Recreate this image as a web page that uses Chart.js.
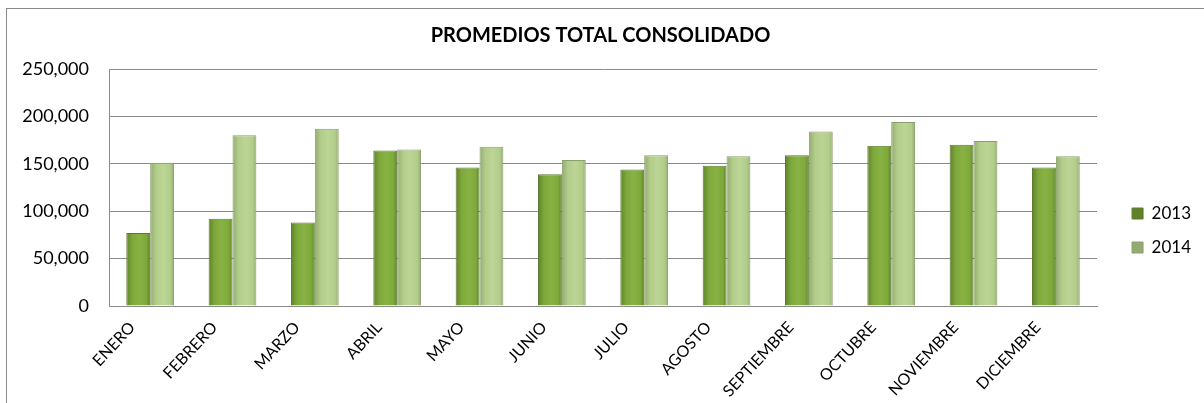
<!DOCTYPE html>
<html>
<head>
<meta charset="utf-8">
<script src="https://cdn.jsdelivr.net/npm/chart.js@4"></script>
<style>
  body { margin: 0; background: #fff; }
  #wrap { position: relative; width: 1204px; height: 403px; overflow: hidden; }
  #frame { position: absolute; left: 6px; top: 8px; width: 1300px; height: 500px; border: 1px solid #8a8a8a; }
  canvas { position: absolute; left: 0; top: 0; }
</style>
</head>
<body>
<div id="wrap">
  <div id="frame"></div>
  <canvas id="promChart" width="1204" height="403"></canvas>
</div>
<script>
const months = ["ENERO", "FEBRERO", "MARZO", "ABRIL", "MAYO", "JUNIO", "JULIO",
  "AGOSTO", "SEPTIEMBRE", "OCTUBRE", "NOVIEMBRE", "DICIEMBRE"];
const values2013 = [77000, 92000, 88000, 164000, 146000, 139000, 144000, 148000, 159000, 169000, 170000, 146000];
const values2014 = [151000, 180000, 187000, 165000, 168000, 154000, 159000, 158000, 184000, 194000, 174000, 158000];
const yMax = 250000;
const yStep = 50000;

const FONT = "Lato, 'Liberation Sans', sans-serif";

// horizontal gradient per bar so it looks like the rounded Excel bars
const barFill = (edge, mid, light) => (ctx) => {
  const el = ctx.element;
  if (!el || !el.width || isNaN(el.x)) return mid;
  const c = ctx.chart.ctx;
  const g = c.createLinearGradient(el.x - el.width / 2, 0, el.x + el.width / 2, 0);
  g.addColorStop(0, edge);
  g.addColorStop(0.25, mid);
  g.addColorStop(0.55, light);
  g.addColorStop(0.85, mid);
  g.addColorStop(1, edge);
  return g;
};

const ctx = document.getElementById("promChart").getContext("2d");
const chart = new Chart(ctx, {
  type: "bar",
  data: {
    labels: months,
    datasets: [
      {
        label: "2013",
        data: values2013,
        backgroundColor: barFill("#5f8229", "#7da83a", "#88b244"),
        borderColor: "#5e7a30",
        borderWidth: 1,
      },
      {
        label: "2014",
        data: values2014,
        backgroundColor: barFill("#93ab72", "#b2cc8a", "#bcd596"),
        borderColor: "#8aa06c",
        borderWidth: 1,
      },
    ],
  },
  options: {
    responsive: false,
    animation: false,
    layout: { padding: { left: 0, right: 3, top: 0, bottom: 0 } },
    datasets: {
      bar: { categoryPercentage: 0.58, barPercentage: 1 },
    },
    plugins: {
      title: {
        display: true,
        text: "PROMEDIOS TOTAL CONSOLIDADO",
        color: "#000",
        font: { family: FONT, size: 20, weight: "bold" },
        padding: { top: 24, bottom: 21 },
      },
      legend: {
        position: "right",
        // empty title only pushes the items down a bit
        title: { display: true, text: " ", font: { size: 10 }, padding: { top: 23, bottom: 23 } },
        labels: {
          color: "#000",
          font: { family: FONT, size: 17 },
          boxWidth: 11,
          boxHeight: 11,
          padding: 17,
        },
      },
      tooltip: { enabled: false },
    },
    scales: {
      x: {
        grid: { display: false },
        border: { color: "#8a8a8a" },
        ticks: {
          color: "#000",
          font: { family: FONT, size: 16 },
          minRotation: 47,
          maxRotation: 47,
          padding: 4,
          labelOffset: -18,
        },
        afterFit: (scale) => { scale.height = 97; },
      },
      y: {
        min: 0,
        max: yMax,
        ticks: {
          stepSize: yStep,
          color: "#000",
          font: { family: FONT, size: 18 },
          padding: 20,
          callback: (v) => v.toLocaleString("en-US"),
        },
        grid: { color: "#8a8a8a", drawTicks: false },
        border: { color: "#8a8a8a" },
        afterFit: (scale) => { scale.width = 109; },
      },
      // empty spacer between the plot and the legend
      gap: {
        type: "linear",
        position: "right",
        display: true,
        grid: { display: false },
        ticks: { display: false },
        border: { display: false },
        afterFit: (scale) => { scale.width = 18; },
      },
    },
  },
});
// second pass so the gradients know the bar positions
chart.update("none");
</script>
</body>
</html>
